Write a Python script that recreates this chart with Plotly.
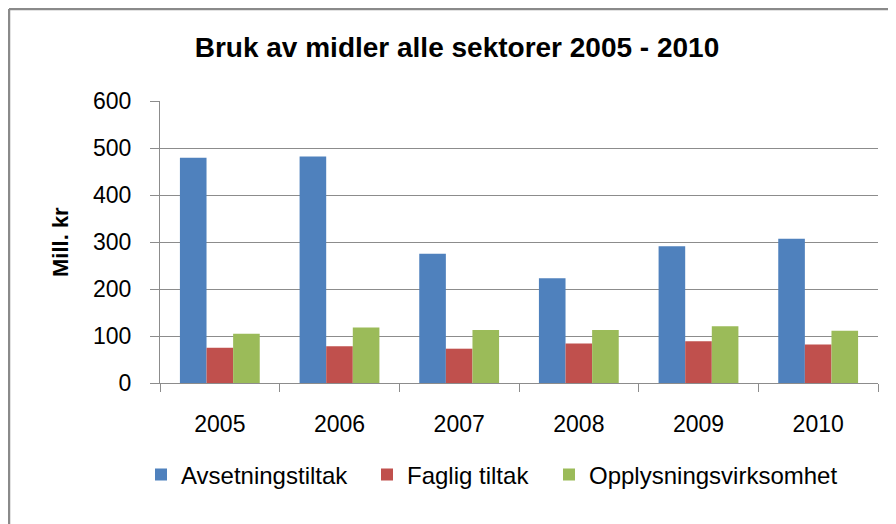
import plotly.graph_objects as go

years = ["2005", "2006", "2007", "2008", "2009", "2010"]
avsetning = [479, 482, 275, 223, 291, 307]
faglig = [75, 78, 73, 84, 89, 82]
opplysning = [105, 118, 113, 113, 121, 111]
y_ticks = [0, 100, 200, 300, 400, 500, 600]

FONT = "Liberation Sans"
GRID = "#8c8c8c"

fig = go.Figure()
fig.add_trace(go.Bar(name="Avsetningstiltak", x=years, y=avsetning, legend="legend",
                     marker=dict(color="#4F81BD", line=dict(width=0))))
fig.add_trace(go.Bar(name="Faglig tiltak", x=years, y=faglig, legend="legend2",
                     marker=dict(color="#C0504D", line=dict(width=0))))
fig.add_trace(go.Bar(name="Opplysningsvirksomhet", x=years, y=opplysning, legend="legend3",
                     marker=dict(color="#9BBB59", line=dict(width=0))))

# page body has an 8px margin; work in page coordinates and shift by OFF
OFF = 8
W, H = 896 - OFF, 524 - OFF
L, R, T, B = 160 - OFF, 18, 101 - OFF, 141
pw, ph = W - L - R, H - T - B

def px(x):
    return (x - OFF - L) / pw

def py(y):
    return (H - B - (y - OFF)) / ph

def leg(xc):
    return dict(orientation="h", x=px(xc - 20.5), xanchor="left", y=py(475), yanchor="middle",
                font=dict(family=FONT, size=24, color="black"), bgcolor="rgba(0,0,0,0)")

fig.update_layout(
    width=W, height=H,
    margin=dict(l=L, r=R, t=T, b=B, autoexpand=False),
    paper_bgcolor="white", plot_bgcolor="white",
    barmode="group", bargap=0.333, bargroupgap=0,
    font=dict(family=FONT, size=23, color="black"),
    title=dict(text="<b>Bruk av midler alle sektorer 2005 - 2010</b>",
               x=(457 - OFF) / W, xref="container", xanchor="center",
               y=1 - (47 - OFF) / H, yref="container", yanchor="middle",
               font=dict(family=FONT, size=28, color="black")),
    showlegend=True,
    legend=leg(161.5),
    legend2=leg(387.5),
    legend3=leg(569.5),
    xaxis=dict(type="category", showline=True, linecolor=GRID, linewidth=1,
               ticks="outside", ticklen=8, tickcolor=GRID, tickson="boundaries",
               ticklabelstandoff=20, showgrid=False, zeroline=False),
    yaxis=dict(range=[0, 600], tickvals=y_ticks, showline=True, linecolor=GRID, linewidth=1,
               ticks="outside", ticklen=9, tickcolor=GRID, showgrid=True, gridcolor=GRID,
               gridwidth=1, zeroline=False, ticklabelstandoff=14),
    annotations=[dict(text="<b>Mill. kr</b>", textangle=-90, x=px(60), y=py(242),
                      xref="paper", yref="paper", xanchor="center", yanchor="middle",
                      showarrow=False, font=dict(family=FONT, size=22, color="black"))],
    shapes=[
        dict(type="line", xref="paper", yref="paper", x0=px(9), x1=px(910), y0=py(9), y1=py(9),
             line=dict(color="#8a8a8a", width=2.5)),
        dict(type="line", xref="paper", yref="paper", x0=px(9), x1=px(9), y0=py(9), y1=py(540),
             line=dict(color="#8a8a8a", width=2.5)),
    ],
)

fig.write_html("out.html")
